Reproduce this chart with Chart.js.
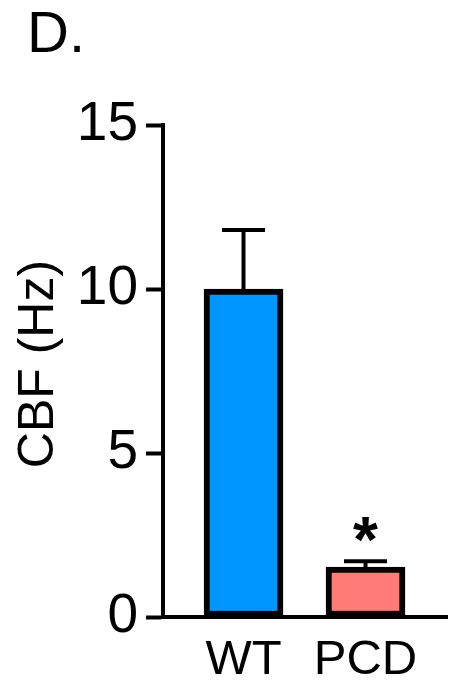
<!DOCTYPE html>
<html>
<head>
<meta charset="utf-8">
<style>
    body { margin: 0; background: #fff; }
    #wrap { width: 456px; height: 681px; }
</style>
<script src="https://cdn.jsdelivr.net/npm/chart.js@4.4.0/dist/chart.umd.min.js"></script>
</head>
<body>
<div id="wrap"><canvas id="cbfChart" width="456" height="681"></canvas></div>
<script>
    // data
    const groups = ['WT', 'PCD']
    const cbfMeans = [10.0, 1.52]
    const cbfErrors = [1.8, 0.18]
    const sigMarks = ['', '*']
    const barColors = ['#0096ff', '#ff7b78']
    const yTicks = [0, 5, 10, 15]

    const FONT = "'Liberation Sans', Arial, sans-serif"

    // panel letter
    const panelLabel = {
        id: 'panelLabel',
        afterDraw(chart) {
            const ctx = chart.ctx
            ctx.save()
            ctx.fillStyle = '#000'
            ctx.font = '58px ' + FONT
            ctx.textBaseline = 'alphabetic'
            ctx.fillText('D.', 27, 52)
            ctx.restore()
        }
    }

    // SEM bars (upper only) and significance stars
    const errorBars = {
        id: 'errorBars',
        afterDatasetsDraw(chart) {
            const ctx = chart.ctx
            const yScale = chart.scales.y
            const meta = chart.getDatasetMeta(0)
            ctx.save()
            ctx.strokeStyle = '#000'
            ctx.fillStyle = '#000'
            ctx.lineWidth = 4
            meta.data.forEach((bar, i) => {
                const top = yScale.getPixelForValue(cbfMeans[i] + cbfErrors[i])
                ctx.beginPath()
                ctx.moveTo(bar.x, bar.y + 2)
                ctx.lineTo(bar.x, top)
                ctx.moveTo(bar.x - 21.5, top)
                ctx.lineTo(bar.x + 21.5, top)
                ctx.stroke()
                if (sigMarks[i]) {
                    ctx.font = 'bold 64px ' + FONT
                    ctx.textAlign = 'center'
                    ctx.textBaseline = 'alphabetic'
                    ctx.fillText(sigMarks[i], bar.x, top + 1)
                }
            })
            ctx.restore()
        }
    }

    new Chart(document.getElementById('cbfChart'), {
        type: 'bar',
        data: {
            datasets: [{
                data: cbfMeans.map((v, i) => ({x: i, y: v})),
                backgroundColor: barColors,
                borderColor: '#000',
                borderWidth: 6,
                borderSkipped: false,
                barThickness: 79
            }]
        },
        options: {
            responsive: false,
            animation: false,
            layout: { padding: { top: 125, right: 9, left: 0, bottom: 0 } },
            plugins: {
                legend: { display: false },
                tooltip: { enabled: false }
            },
            scales: {
                x: {
                    type: 'linear',
                    offset: false,
                    min: -0.66,
                    max: 1.668,
                    afterFit: (scale) => { scale.height = 64 },
                    grid: { display: true, drawOnChartArea: false, drawTicks: false, tickLength: 0 },
                    border: { display: true, color: '#000', width: 4 },
                    ticks: {
                        stepSize: 1,
                        includeBounds: false,
                        autoSkip: false,
                        maxRotation: 0,
                        padding: 14,
                        color: '#000',
                        font: { family: FONT, size: 49 },
                        callback: (v) => groups[v] ?? ''
                    }
                },
                y: {
                    min: 0,
                    max: 15,
                    afterFit: (scale) => { scale.width = 163 },
                    afterBuildTicks: (scale) => { scale.ticks = yTicks.map(v => ({value: v})) },
                    grid: { drawOnChartArea: false, drawTicks: true, tickLength: 17, tickWidth: 4, tickColor: '#000' },
                    border: { display: true, color: '#000', width: 4 },
                    ticks: {
                        padding: 8,
                        color: '#000',
                        font: { family: FONT, size: 55 }
                    },
                    title: {
                        display: true,
                        text: ' CBF (Hz)',
                        color: '#000',
                        font: { family: FONT, size: 50, lineHeight: 1 },
                        padding: { top: 14, bottom: 0 }
                    }
                }
            }
        },
        plugins: [panelLabel, errorBars]
    })
</script>
</body>
</html>
